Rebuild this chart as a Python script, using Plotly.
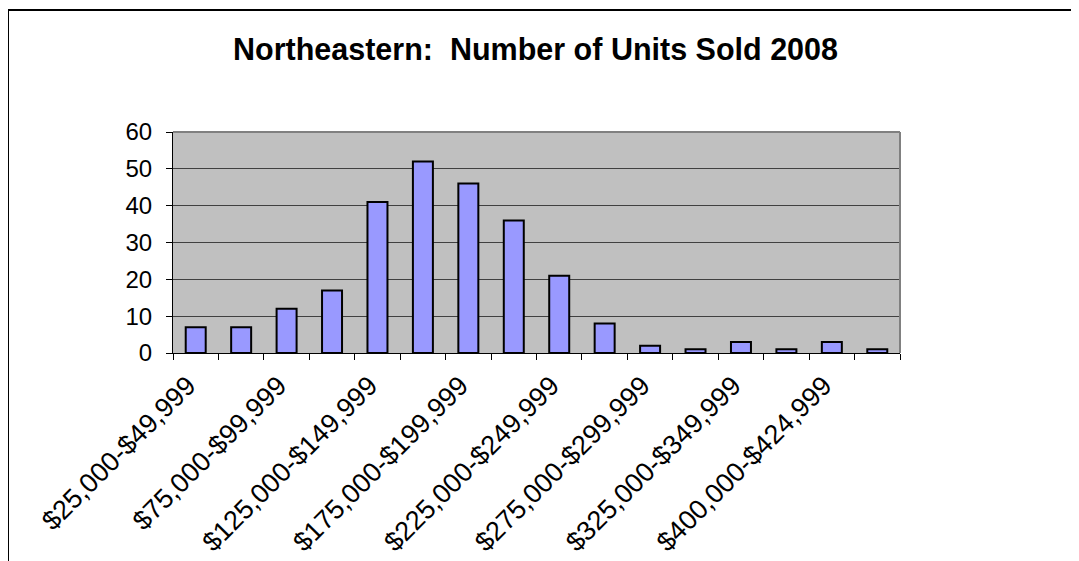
import plotly.graph_objects as go

categories = [
    "$25,000-$49,999", "$50,000-$74,999", "$75,000-$99,999", "$100,000-$124,999",
    "$125,000-$149,999", "$150,000-$174,999", "$175,000-$199,999", "$200,000-$224,999",
    "$225,000-$249,999", "$250,000-$274,999", "$275,000-$299,999", "$300,000-$324,999",
    "$325,000-$349,999", "$350,000-$399,999", "$400,000-$424,999", "$425,000-$449,999",
]
units_sold = [7, 7, 12, 17, 41, 52, 46, 36, 21, 8, 2, 1, 3, 1, 3, 1]
tick_labels = [c if i % 2 == 0 else "" for i, c in enumerate(categories)]
title_text = "Northeastern:  Number of Units Sold 2008"

FONT = "Arial, Liberation Sans, sans-serif"
OFF = 8  # page body margin
W, H = 1079 - OFF, 561 - OFF
L, T = 173 - OFF, 132 - OFF
R = W - (900 - OFF)
B = H - (353 - OFF)
pw, ph = W - L - R, H - T - B

fig = go.Figure(go.Bar(
    x=categories, y=units_sold,
    marker=dict(color="#9999FF", line=dict(color="#000000", width=2)),
))

fig.update_layout(
    width=W, height=H,
    margin=dict(l=L, r=R, t=T, b=B, autoexpand=False),
    paper_bgcolor="#FFFFFF", plot_bgcolor="#C0C0C0",
    bargap=0.56, showlegend=False,
    font=dict(family=FONT, color="#000000", size=24),
    title=dict(text="<b>" + title_text + "</b>", font=dict(family=FONT, size=30.5, color="#000000"),
               x=(535.5 - OFF) / W, xanchor="center", xref="container",
               y=1 - (49 - OFF) / H, yanchor="middle", yref="container"),
)
fig.update_xaxes(
    type="category", tickmode="array", tickvals=categories, ticktext=tick_labels,
    tickangle=-45, tickson="boundaries", ticks="outside", ticklen=6, tickcolor="#000000",
    showline=True, linecolor="#000000", linewidth=1, showgrid=False,
    ticklabelshift=-8, ticklabelstandoff=5,
    tickfont=dict(family=FONT, size=27, color="#000000"),
)
fig.update_yaxes(
    range=[0, 60], dtick=10, tick0=0, ticks="outside", ticklen=6, tickcolor="#000000",
    showline=True, linecolor="#000000", linewidth=1, ticklabelstandoff=9,
    showgrid=True, gridcolor="#404040", gridwidth=1, zeroline=False,
    tickfont=dict(family=FONT, size=24, color="#000000"),
)
# plot-area border (top and right in gray)
fig.add_shape(type="line", xref="paper", yref="paper", x0=0, x1=1, y0=1, y1=1,
              line=dict(color="#808080", width=2))
fig.add_shape(type="line", xref="paper", yref="paper", x0=1, x1=1, y0=0, y1=1,
              line=dict(color="#808080", width=2))
# outer chart frame (cropped at right and bottom)
fx0 = (0 - L) / pw
fy1 = (H - B - (10 - OFF)) / ph
fig.add_shape(type="line", xref="paper", yref="paper", x0=fx0, x1=(W + 20 - L) / pw, y0=fy1, y1=fy1,
              line=dict(color="#000000", width=2))
fig.add_shape(type="line", xref="paper", yref="paper", x0=fx0, x1=fx0, y0=fy1, y1=-(B + 20) / ph,
              line=dict(color="#000000", width=2))

fig.write_html("out.html")
